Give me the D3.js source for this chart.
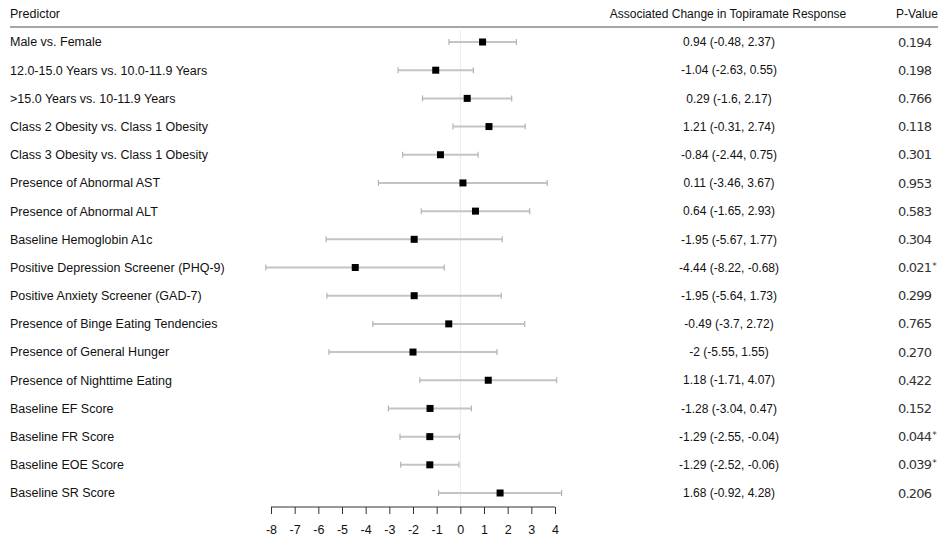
<!DOCTYPE html>
<html>
<head>
<meta charset="utf-8">
<script src="https://cdn.jsdelivr.net/npm/d3@7"></script>
<style>
  body { margin: 0; background: #fff; }
  text { font-family: "Liberation Sans", Arial, sans-serif; fill: #111; }
  .pval { font-family: "DejaVu Sans", Verdana, sans-serif; letter-spacing: -0.8px; fill: #333; }
</style>
</head>
<body>
<div id="chart"></div>
<script>
const predictors = [
  "Male vs. Female",
  "12.0-15.0 Years vs. 10.0-11.9 Years",
  ">15.0 Years vs. 10-11.9 Years",
  "Class 2 Obesity vs. Class 1 Obesity",
  "Class 3 Obesity vs. Class 1 Obesity",
  "Presence of Abnormal AST",
  "Presence of Abnormal ALT",
  "Baseline Hemoglobin A1c",
  "Positive Depression Screener (PHQ-9)",
  "Positive Anxiety Screener (GAD-7)",
  "Presence of Binge Eating Tendencies",
  "Presence of General Hunger",
  "Presence of Nighttime Eating",
  "Baseline EF Score",
  "Baseline FR Score",
  "Baseline EOE Score",
  "Baseline SR Score"
];
const estimates = [0.94, -1.04, 0.29, 1.21, -0.84, 0.11, 0.64, -1.95, -4.44, -1.95, -0.49, -2, 1.18, -1.28, -1.29, -1.29, 1.68];
const lower = [-0.48, -2.63, -1.6, -0.31, -2.44, -3.46, -1.65, -5.67, -8.22, -5.64, -3.7, -5.55, -1.71, -3.04, -2.55, -2.52, -0.92];
const upper = [2.37, 0.55, 2.17, 2.74, 0.75, 3.67, 2.93, 1.77, -0.68, 1.73, 2.72, 1.55, 4.07, 0.47, -0.04, -0.06, 4.28];
const pValues = ["0.194", "0.198", "0.766", "0.118", "0.301", "0.953", "0.583", "0.304", "0.021", "0.299", "0.765", "0.270", "0.422", "0.152", "0.044", "0.039", "0.206"];
const significant = [false, false, false, false, false, false, false, false, true, false, false, false, false, false, true, true, false];
const xTicks = [-8, -7, -6, -5, -4, -3, -2, -1, 0, 1, 2, 3, 4];

const width = 945, height = 542;

const svg = d3.select("#chart").append("svg")
  .attr("width", width)
  .attr("height", height);

const x = d3.scaleLinear().domain([-8, 4]).range([271, 555]);
const y = d3.scalePoint().domain(predictors).range([42, 493]);

const rows = predictors.map((p, i) => ({
  name: p, est: estimates[i], lo: lower[i], hi: upper[i], p: pValues[i], sig: significant[i]
}));

// header
svg.append("text").attr("x", 10).attr("y", 14).attr("dy", "0.35em")
  .style("font-size", "12.5px").text("Predictor");
svg.append("text").attr("x", 728).attr("y", 14).attr("dy", "0.35em")
  .attr("text-anchor", "middle").style("font-size", "12px")
  .text("Associated Change in Topiramate Response");
svg.append("text").attr("x", 917).attr("y", 14).attr("dy", "0.35em")
  .attr("text-anchor", "middle").style("font-size", "12px").text("P-Value");
svg.append("line").attr("x1", 10).attr("x2", 938).attr("y1", 27).attr("y2", 27)
  .style("stroke", "#888").style("stroke-width", 1.5);

// zero reference line
svg.append("line")
  .attr("x1", x(0)).attr("x2", x(0)).attr("y1", 30).attr("y2", 507)
  .style("stroke", "#ebebeb").style("stroke-width", 1);

const row = svg.selectAll(".row").data(rows).enter().append("g")
  .attr("class", "row")
  .attr("transform", d => `translate(0,${y(d.name)})`);

row.append("text").attr("x", 10).attr("dy", "0.35em")
  .style("font-size", "12.5px").text(d => d.name);

row.append("line")
  .attr("x1", d => x(d.lo)).attr("x2", d => x(d.hi))
  .style("stroke", "#c4c4c4").style("stroke-width", 2);
row.append("line")
  .attr("x1", d => x(d.lo)).attr("x2", d => x(d.lo)).attr("y1", -3).attr("y2", 3)
  .style("stroke", "#b4b4b4").style("stroke-width", 1.2);
row.append("line")
  .attr("x1", d => x(d.hi)).attr("x2", d => x(d.hi)).attr("y1", -3).attr("y2", 3)
  .style("stroke", "#b4b4b4").style("stroke-width", 1.2);
row.append("rect")
  .attr("x", d => x(d.est) - 3.5).attr("y", -3.5)
  .attr("width", 7).attr("height", 7)
  .style("fill", "#000");

row.append("text").attr("x", 729).attr("dy", "0.35em")
  .attr("text-anchor", "middle").style("font-size", "12px")
  .text(d => `${d.est} (${d.lo}, ${d.hi})`);

const pt = row.append("text").attr("class", "pval").attr("x", 898).attr("dy", "0.35em")
  .style("font-size", "13px");
pt.append("tspan").text(d => d.p);
pt.filter(d => d.sig).append("tspan")
  .attr("dy", "-0.35em").style("font-size", "9px").attr("dx", 1).text("*");

// axis
const axis = svg.append("g")
  .attr("transform", "translate(0,507)")
  .call(d3.axisBottom(x).tickValues(xTicks).tickSize(7).tickPadding(11).tickFormat(d => String(d)));
axis.select(".domain").attr("d", `M${x(-8)},0H${x(4)}`).style("stroke", "#333");
axis.selectAll(".tick line").style("stroke", "#333");
axis.selectAll(".tick text")
  .style("font-family", "'Liberation Sans', Arial, sans-serif")
  .style("font-size", "12.5px").style("fill", "#111");
</script>
</body>
</html>
